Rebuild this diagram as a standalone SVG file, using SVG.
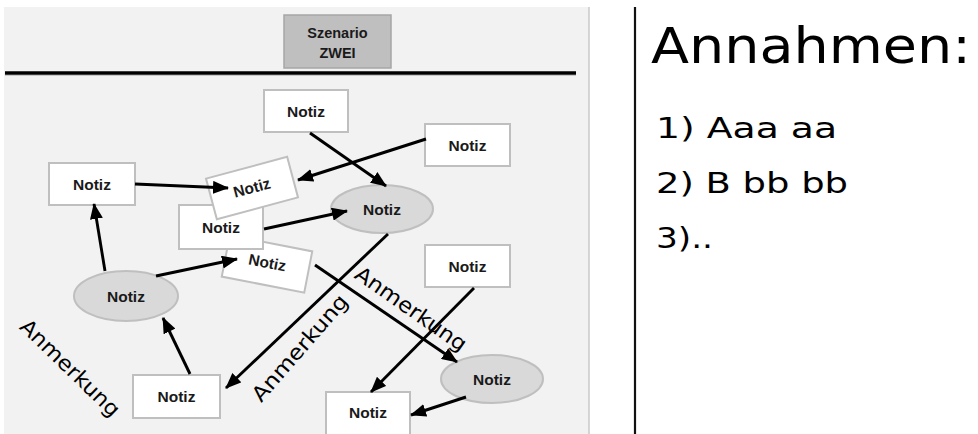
<svg xmlns="http://www.w3.org/2000/svg" width="978" height="434" viewBox="0 0 978 434">
<defs>
<style>
.box{fill:#ffffff;stroke:#bfbfbf;stroke-width:2}
.ell{fill:#d9d9d9;stroke:#bfbfbf;stroke-width:2}
.lbl{font-family:"Liberation Sans",Arial,sans-serif;font-weight:bold;font-size:15.5px;fill:#1a1a1a;text-anchor:middle}
.hand{font-family:"DejaVu Sans",sans-serif;fill:#000000}
.note{font-size:21px;text-anchor:middle}
.conn line{stroke:#000000;stroke-width:2.9;marker-end:url(#ah)}
</style>
<marker id="ah" markerUnits="userSpaceOnUse" markerWidth="16" markerHeight="13" viewBox="0 0 16 13" refX="15" refY="6.5" orient="auto">
<path d="M0,0 L16,6.5 L0,13 z" fill="#000000"/>
</marker>
</defs>
<rect x="0" y="0" width="978" height="434" fill="#ffffff"/>
<rect x="4" y="7" width="585" height="427" fill="#f2f2f2"/>
<line x1="589" y1="7" x2="589" y2="434" stroke="#c8c8c8" stroke-width="1.5"/>
<line x1="5" y1="73" x2="576" y2="73" stroke="#000000" stroke-width="3.5"/>
<line x1="5" y1="75.5" x2="576" y2="75.5" stroke="#c8c8c8" stroke-width="1"/>
<line x1="635" y1="7" x2="635" y2="434" stroke="#111111" stroke-width="2.2"/>

<g id="title">
<rect x="284" y="15" width="107" height="53" fill="#bfbfbf" stroke="#a6a6a6" stroke-width="1.5"/>
<text class="lbl" x="337.5" y="38" style="font-size:14.5px">Szenario</text>
<text class="lbl" x="337.5" y="58" style="font-size:14.5px">ZWEI</text>
</g>

<g id="n1"><rect class="box" x="264" y="90" width="84" height="42"/><text class="lbl" x="306" y="117">Notiz</text></g>
<g id="n2"><rect class="box" x="425" y="124" width="85" height="42"/><text class="lbl" x="467.5" y="151">Notiz</text></g>
<g id="n3"><rect class="box" x="49" y="163" width="86" height="42"/><text class="lbl" x="92" y="190">Notiz</text></g>
<g id="n6" transform="translate(267,264) rotate(11)"><rect class="box" x="-42" y="-21" width="84" height="42"/><text class="lbl" x="0" y="4">Notiz</text></g>
<g id="n5"><rect class="box" x="179" y="205" width="84" height="44"/><text class="lbl" x="221" y="233">Notiz</text></g>
<g id="n4" transform="translate(252,188) rotate(-15)"><rect class="box" x="-42" y="-21" width="84" height="42"/><text class="lbl" x="0" y="5">Notiz</text></g>
<g id="n7"><ellipse class="ell" cx="382" cy="209" rx="51" ry="24"/><text class="lbl" x="382" y="215">Notiz</text></g>
<g id="n8"><ellipse class="ell" cx="126" cy="296" rx="52" ry="25"/><text class="lbl" x="126" y="302">Notiz</text></g>
<g id="n9"><rect class="box" x="425" y="245" width="85" height="42"/><text class="lbl" x="467.5" y="272">Notiz</text></g>
<g id="n10"><rect class="box" x="133" y="375" width="87" height="43"/><text class="lbl" x="176.5" y="402">Notiz</text></g>
<g id="n11"><ellipse class="ell" cx="492" cy="379" rx="51" ry="24"/><text class="lbl" x="492" y="385">Notiz</text></g>
<g id="n12"><rect class="box" x="326" y="392" width="84" height="44"/><text class="lbl" x="368" y="418">Notiz</text></g>

<g id="connectors" class="conn">
<line x1="310" y1="133" x2="386" y2="186"/>
<line x1="426" y1="139" x2="298" y2="180"/>
<line x1="135" y1="184" x2="228" y2="188"/>
<line x1="264" y1="229" x2="347" y2="211"/>
<line x1="388" y1="234" x2="226" y2="388"/>
<line x1="105" y1="271" x2="94" y2="204"/>
<line x1="156" y1="276" x2="237" y2="259"/>
<line x1="190" y1="374" x2="163" y2="318"/>
<line x1="315" y1="265" x2="457" y2="362"/>
<line x1="474" y1="288" x2="371" y2="392"/>
<line x1="466" y1="397" x2="411" y2="415"/>
</g>

<g id="notes" class="hand">
<text class="note" transform="translate(70,368) rotate(44)" x="0" y="7" textLength="130" lengthAdjust="spacingAndGlyphs">Anmerkung</text>
<text class="note" transform="translate(300,348) rotate(-49)" x="0" y="7" textLength="134" lengthAdjust="spacingAndGlyphs">Anmerkung</text>
<text class="note" transform="translate(411,309) rotate(35)" x="0" y="7" textLength="131" lengthAdjust="spacingAndGlyphs">Anmerkung</text>
</g>

<g id="assumptions" class="hand">
<text x="651" y="63" style="font-size:50px" textLength="320" lengthAdjust="spacingAndGlyphs">Annahmen:</text>
<text x="656" y="138" style="font-size:28px" textLength="181" lengthAdjust="spacingAndGlyphs">1) Aaa aa</text>
<text x="656" y="193" style="font-size:28px" textLength="192" lengthAdjust="spacingAndGlyphs">2) B bb bb</text>
<text x="656" y="248" style="font-size:28px" textLength="57" lengthAdjust="spacingAndGlyphs">3)..</text>
</g>
</svg>
